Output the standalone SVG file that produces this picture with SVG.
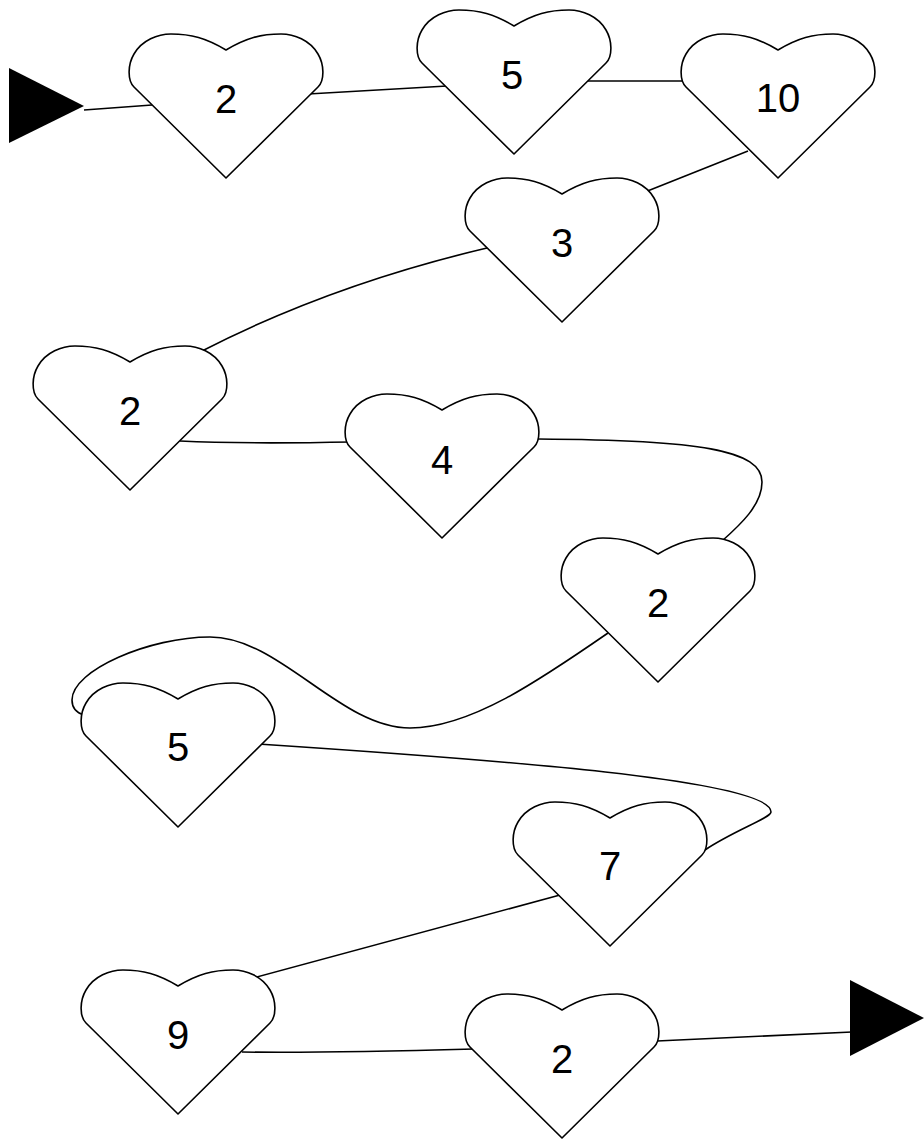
<svg xmlns="http://www.w3.org/2000/svg" xmlns:xlink="http://www.w3.org/1999/xlink" width="924" height="1139" viewBox="0 0 924 1139">
<style>
.edge{fill:none;stroke:#000;stroke-width:1.6}
.heart{fill:#fff;stroke:#000;stroke-width:1.6;stroke-linejoin:round}
.lbl{font-family:"Liberation Sans",Arial,sans-serif;font-size:40px;fill:#000;text-anchor:middle}
.tri{fill:#000;stroke:none}
</style>
<defs>
<path id="heart" d="M 0 0 L -92 -91 C -99 -98 -98 -114 -92 -124 C -84 -138 -68 -144 -55 -144 C -35 -144 -20 -140 0 -128 C 20 -140 35 -144 55 -144 C 68 -144 84 -138 92 -124 C 98 -114 99 -98 92 -91 Z"/>
</defs>
<rect width="924" height="1139" fill="#fff"/>
<g id="connectors">
<polygon class="tri" points="9,68 9,143 84,106"/>
<path class="edge" d="M 84 110 L 152 105"/>
<path class="edge" d="M 308 94 L 447 86"/>
<path class="edge" d="M 585 81 L 686 81"/>
<path class="edge" d="M 748 151 L 645 192"/>
<path class="edge" d="M 487 248 Q 330 285 200 352"/>
<path class="edge" d="M 180 441 C 220 443 300 443 352 442"/>
<path class="edge" d="M 538 439 C 700 440 762 450 762 482 C 762 505 740 525 722 541"/>
<path class="edge" d="M 608 633 C 540 680 470 728 410 728 C 340 728 280 637 210 637 C 150 637 72 670 72 700 C 72 708 77 713 84 715"/>
<path class="edge" d="M 258 744 C 500 760 771 780 771 812 C 771 818 735 830 705 850"/>
<path class="edge" d="M 560 895 L 253 978"/>
<path class="edge" d="M 242 1052 C 300 1053 400 1051 474 1049"/>
<path class="edge" d="M 657 1041 L 852 1032"/>
<polygon class="tri" points="850,980 850,1056 924,1018"/>
</g>
<g id="n1"><use xlink:href="#heart" href="#heart" class="heart" transform="translate(226,178)"/><text class="lbl" x="226" y="113">2</text></g>
<g id="n2"><use xlink:href="#heart" href="#heart" class="heart" transform="translate(514,154)"/><text class="lbl" x="512" y="89">5</text></g>
<g id="n3"><use xlink:href="#heart" href="#heart" class="heart" transform="translate(778,178)"/><text class="lbl" x="778" y="112">10</text></g>
<g id="n4"><use xlink:href="#heart" href="#heart" class="heart" transform="translate(562,322)"/><text class="lbl" x="562" y="257">3</text></g>
<g id="n5"><use xlink:href="#heart" href="#heart" class="heart" transform="translate(130,490)"/><text class="lbl" x="130" y="425">2</text></g>
<g id="n6"><use xlink:href="#heart" href="#heart" class="heart" transform="translate(442,538)"/><text class="lbl" x="442" y="474">4</text></g>
<g id="n7"><use xlink:href="#heart" href="#heart" class="heart" transform="translate(658,682)"/><text class="lbl" x="658" y="617">2</text></g>
<g id="n8"><use xlink:href="#heart" href="#heart" class="heart" transform="translate(178,827)"/><text class="lbl" x="178" y="761">5</text></g>
<g id="n9"><use xlink:href="#heart" href="#heart" class="heart" transform="translate(610,946)"/><text class="lbl" x="610" y="880">7</text></g>
<g id="n10"><use xlink:href="#heart" href="#heart" class="heart" transform="translate(178,1114)"/><text class="lbl" x="178" y="1049">9</text></g>
<g id="n11"><use xlink:href="#heart" href="#heart" class="heart" transform="translate(562,1138)"/><text class="lbl" x="562" y="1073">2</text></g>
</svg>
